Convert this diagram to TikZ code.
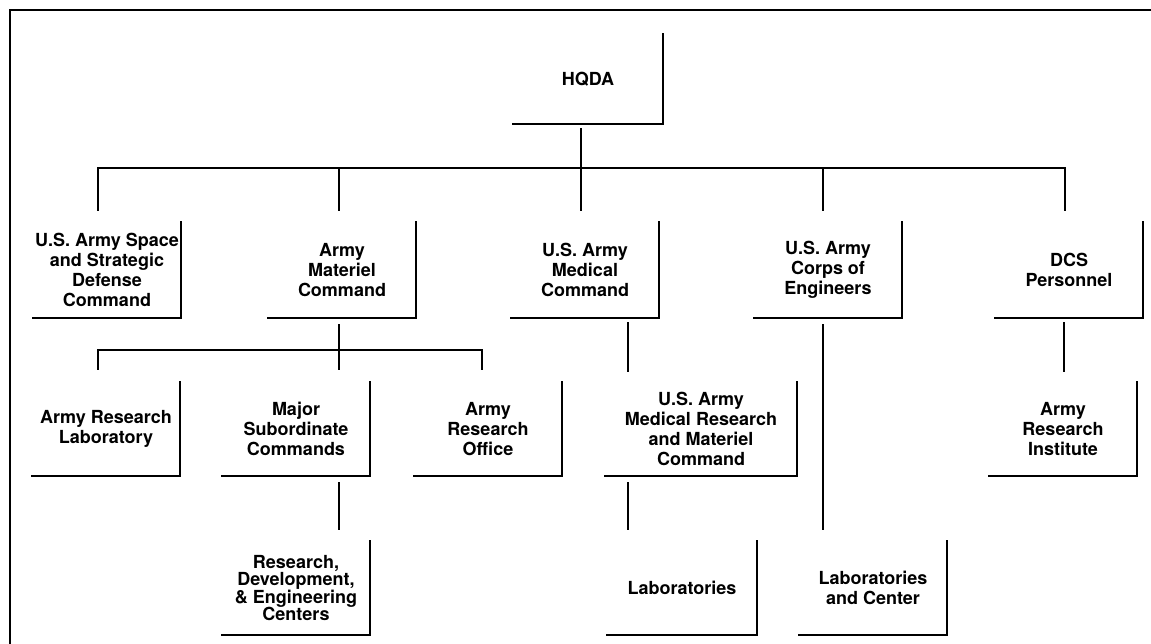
\documentclass[tikz,border=0pt]{standalone}
\usepackage{fontspec}
\setmainfont{TeX Gyre Heros}
\usetikzlibrary{positioning,calc}

\begin{document}
\begin{tikzpicture}[
  x=1pt, y=1pt,
  font=\fontsize{18}{20}\selectfont\bfseries,
  unit/.style={align=center, minimum width=148pt, minimum height=94pt, inner sep=0pt},
  wide/.style={unit, minimum width=191pt},
  tight/.style={unit, font=\fontsize{18}{17.5}\selectfont\bfseries},
  rim/.style={line width=2.3pt, line cap=rect},
  link/.style={line width=1.1pt},
  heavy/.style={line width=2pt},
  outline/.style={line width=1.8pt}
]
\useasboundingbox (0,0) rectangle (1151,644);

% ---------------- outer frame ----------------
\draw[outline] (10,0) |- (1151,634);

% ---------------- top ----------------
\node[unit, minimum width=150pt, minimum height=90pt] (hqda) at (588,565) {HQDA};

% ---------------- first row ----------------
\node[unit, minimum height=96pt] (space) at (107,374)
  {U.S. Army Space\\and Strategic\\Defense\\Command};
\node[unit, minimum height=96pt] (amc) at (342,374) {Army\\Materiel\\Command};
\node[unit, minimum height=96pt] (medcom) at (585,374) {U.S. Army\\Medical\\Command};
\node[unit, minimum height=96pt] (corps) at (828,374) {U.S. Army\\Corps of\\Engineers};
\node[unit, minimum height=96pt] (dcs) at (1069,374) {DCS\\Personnel};

% ---------------- second row ----------------
\node[unit] (arl) at (106,215) {Army Research\\Laboratory};
\node[unit] (msc) at (296,215) {Major\\Subordinate\\Commands};
\node[unit] (aro) at (488,215) {Army\\Research\\Office};
\node[wide] (mrmc) at (701,215)
  {U.S. Army\\Medical Research\\and Materiel\\Command};
\node[unit] (ari) at (1063,215) {Army\\Research\\Institute};

% ---------------- third row ----------------
\node[tight] (rdec) at (296,56)
  {Research,\\Development,\\\& Engineering\\Centers};
\node[unit, minimum width=150pt] (labs) at (682,56) {Laboratories};
\node[unit] (labctr) at (873,56) {Laboratories\\and Center};

% open boxes: right and bottom sides only
\foreach \n in {hqda,space,amc,medcom,corps,dcs,arl,msc,aro,mrmc,ari,rdec,labs,labctr}
  \draw[rim] (\n.north east) |- (\n.south west);

% ---------------- connectors ----------------
\coordinate (bus) at (581,476);
\coordinate (amcx) at (339,0);
\coordinate (medx) at (628,0);
\coordinate (corpsx) at (823,0);
\coordinate (dcsx) at (1064,0);
\coordinate (amcbus) at (339,294);

\draw[link] ($(hqda.south -| bus)+(0,-4)$) -- (bus);
\draw[link] (bus) -| ($(space.north)+(-9,11)$);
\draw[heavy] (bus) -| ($(amc.north)+(-3,11)$);
\draw[link] (bus) -- ($(medcom.north -| bus)+(0,11)$);
\draw[heavy] (bus) -| ($(corps.north)+(-5,11)$);
\draw[heavy] (bus) -| ($(dcs.north)+(-4,11)$);

% under the Materiel Command
\draw[heavy] ($(amc.south -| amcx)+(0,-6)$) -- ($(msc.north -| amcx)+(0,12)$);
\draw[link] ($(arl.north)+(-8,12)$) |- (amcbus) -| ($(aro.north)+(-6,12)$);
\draw[heavy] ($(msc.south -| amcx)+(0,-6)$) -- ($(rdec.north -| amcx)+(0,11)$);

% medical, engineers and personnel lines
\draw[heavy] ($(medcom.south -| medx)+(0,-4)$) -- ($(mrmc.north -| medx)+(0,10)$);
\draw[heavy] ($(mrmc.south -| medx)+(0,-6)$) -- ($(labs.north -| medx)+(0,11)$);
\draw[link] ($(corps.south -| corpsx)+(0,-6)$) -- ($(labctr.north -| corpsx)+(0,11)$);
\draw[heavy] ($(dcs.south -| dcsx)+(0,-4)$) -- ($(ari.north -| dcsx)+(0,10)$);

\end{tikzpicture}
\end{document}
